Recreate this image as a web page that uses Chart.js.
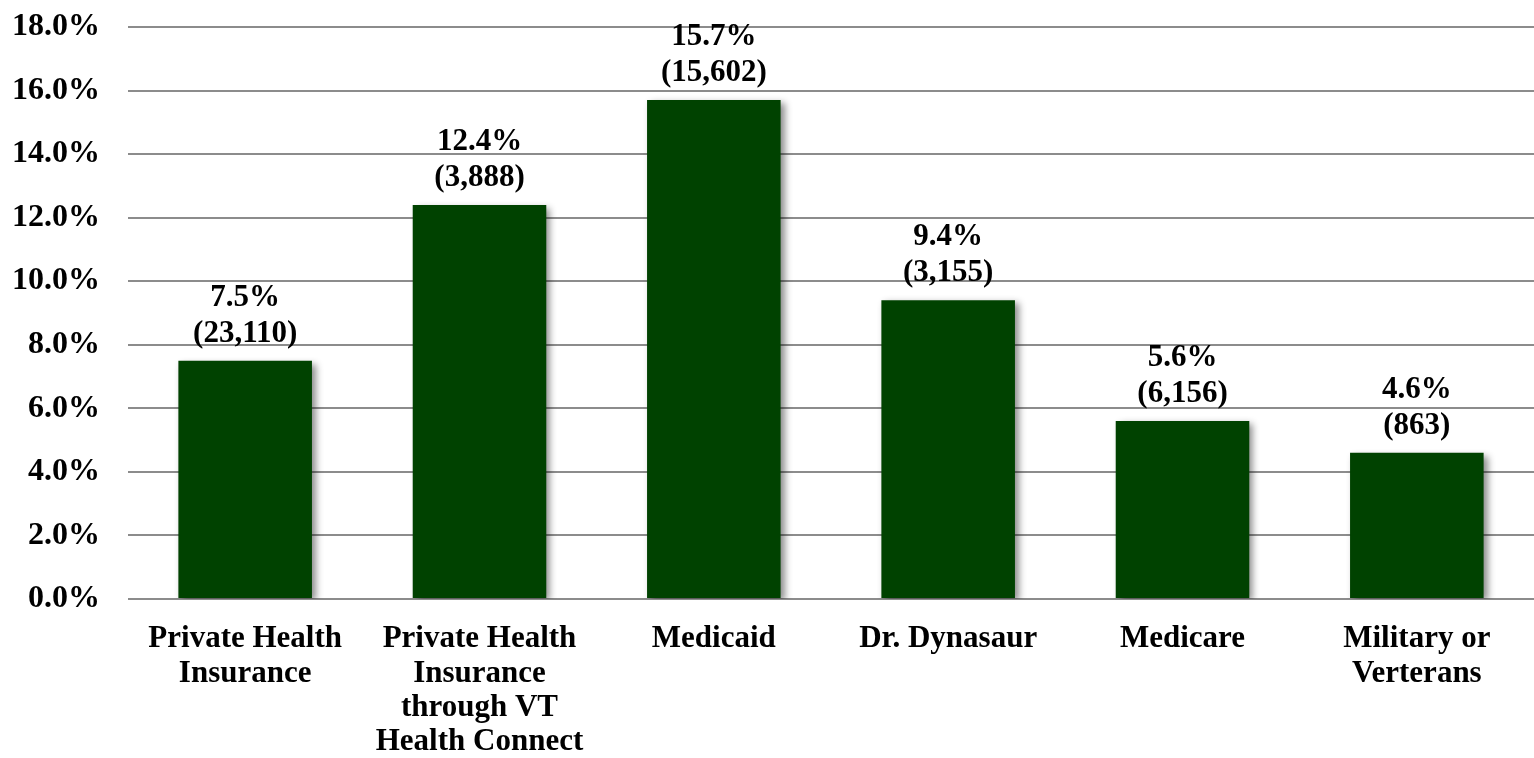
<!DOCTYPE html>
<html>
<head>
<meta charset="utf-8">
<script src="https://cdn.jsdelivr.net/npm/chart.js@4/dist/chart.umd.min.js"></script>
<style>
  html, body { margin: 0; padding: 0; background: #fff; }
  #wrap { width: 1534px; height: 758px; }
</style>
</head>
<body>
<div id="wrap"><canvas id="chart"></canvas></div>
<script>
// coverage categories
const categories = [
  ['Private Health', 'Insurance'],
  ['Private Health', 'Insurance', 'through VT', 'Health Connect'],
  ['Medicaid'],
  ['Dr. Dynasaur'],
  ['Medicare'],
  ['Military or', 'Verterans']
];
const percents = [7.5, 12.4, 15.7, 9.4, 5.6, 4.6];
const counts = ['23,110', '3,888', '15,602', '3,155', '6,156', '863'];
const yMax = 18;
const yStep = 2;

const FONT = '"Liberation Serif", "Times New Roman", serif';

// drop shadow behind the bars
const barShadow = {
  id: 'barShadow',
  beforeDatasetDraw(chart) {
    const ctx = chart.ctx;
    ctx.save();
    ctx.shadowColor = 'rgba(0,0,0,0.45)';
    ctx.shadowBlur = 7;
    ctx.shadowOffsetX = 4;
    ctx.shadowOffsetY = 3;
  },
  afterDatasetDraw(chart) {
    chart.ctx.restore();
  }
};

// two-line value labels above each bar
const valueLabels = {
  id: 'valueLabels',
  afterDatasetsDraw(chart) {
    const ctx = chart.ctx;
    const meta = chart.getDatasetMeta(0);
    ctx.save();
    ctx.font = 'bold 31px ' + FONT;
    ctx.fillStyle = '#000';
    ctx.textAlign = 'center';
    ctx.textBaseline = 'middle';
    meta.data.forEach((bar, i) => {
      ctx.fillText('(' + counts[i] + ')', bar.x, bar.y - 27);
      ctx.fillText(percents[i].toFixed(1) + '%', bar.x, bar.y - 63);
    });
    ctx.restore();
  }
};

new Chart(document.getElementById('chart'), {
  type: 'bar',
  data: {
    labels: categories,
    datasets: [{
      data: percents,
      backgroundColor: '#004200',
      borderWidth: 0,
      categoryPercentage: 1,
      barPercentage: 0.57
    }]
  },
  options: {
    responsive: true,
    maintainAspectRatio: false,
    animation: false,
    layout: { padding: { top: 27, right: 0, left: 0, bottom: 0 } },
    plugins: {
      legend: { display: false },
      tooltip: { enabled: false }
    },
    scales: {
      x: {
        grid: { display: false, drawTicks: false },
        border: { display: false },
        afterFit: s => { s.height = 159; },
        ticks: {
          color: '#000',
          padding: 23,
          maxRotation: 0,
          autoSkip: false,
          font: { family: FONT, size: 31, weight: 'bold', lineHeight: 1.11 }
        }
      },
      y: {
        min: 0,
        max: yMax,
        grid: { color: '#8c8c8c', lineWidth: 2, drawTicks: false },
        border: { display: false },
        afterFit: s => { s.width = 128; s.paddingTop = 0; s.paddingBottom = 0; },
        ticks: {
          stepSize: yStep,
          color: '#000',
          padding: 28,
          font: { family: FONT, size: 32, weight: 'bold' },
          callback: v => v.toFixed(1) + '%'
        }
      }
    }
  },
  plugins: [barShadow, valueLabels]
});
</script>
</body>
</html>
